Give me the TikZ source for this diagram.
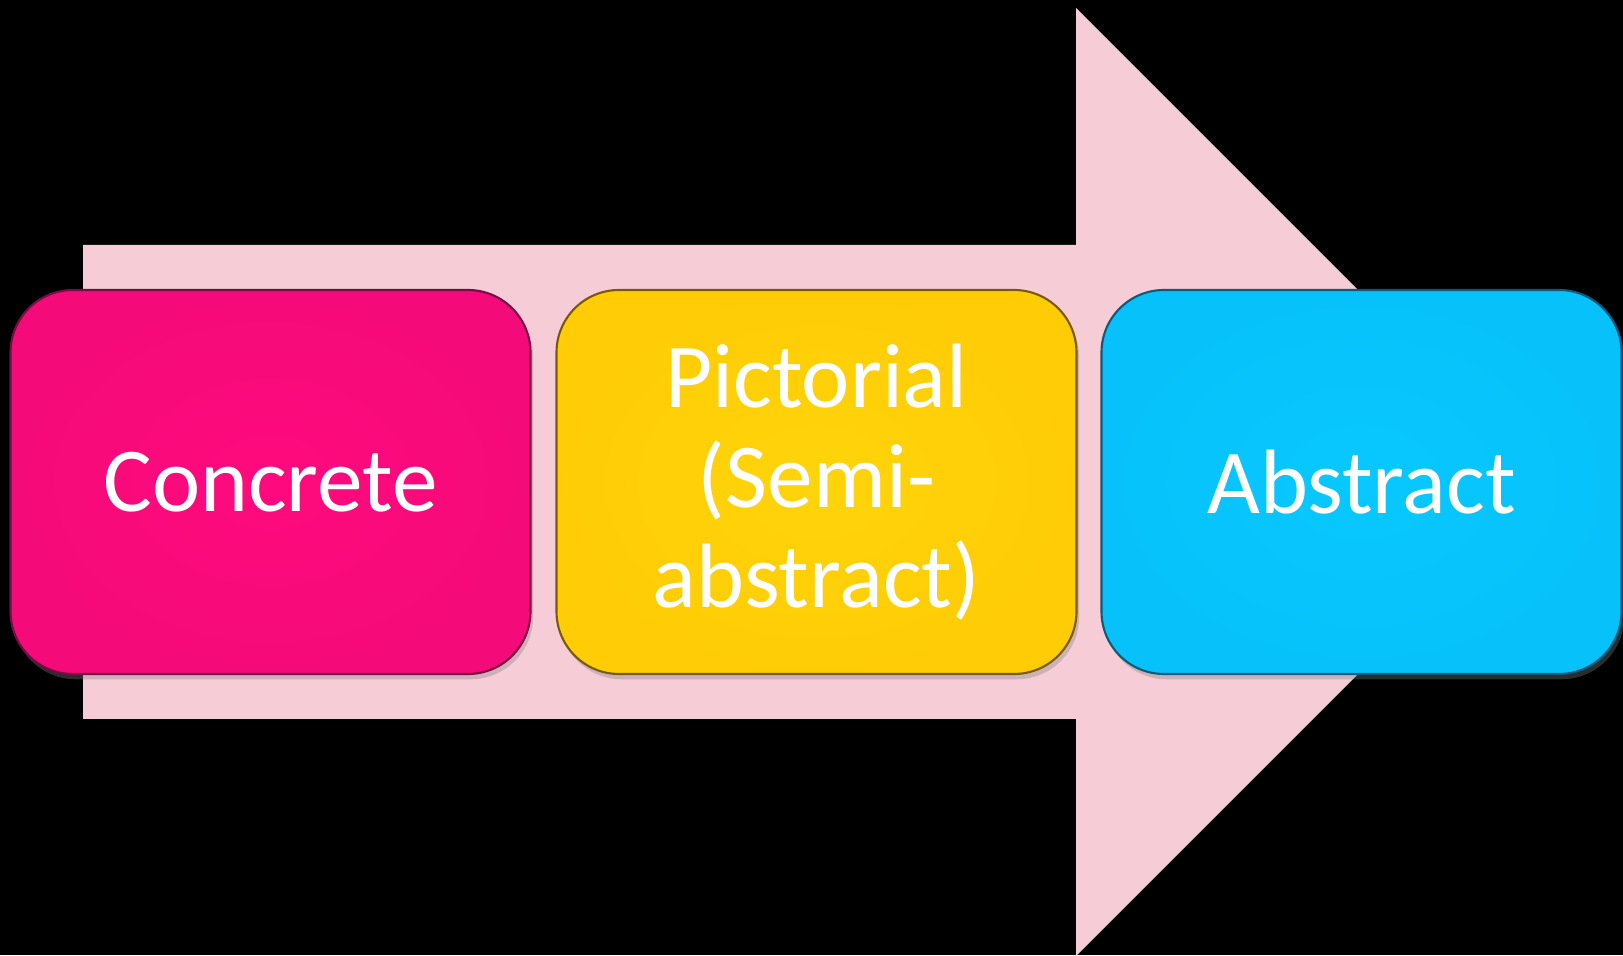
\documentclass[tikz,border=0pt]{standalone}
\usepackage{fontspec}
\setmainfont{Carlito}
\usepackage{xcolor}
\usepackage{tikz}
\usetikzlibrary{positioning,shadows}
\definecolor{arrowpink}{RGB}{246,204,214}
\definecolor{cpink}{RGB}{255,10,126}
\definecolor{cpinkdk}{RGB}{120,10,70}
\definecolor{cyel}{RGB}{255,212,10}
\definecolor{cyelo}{RGB}{255,196,0}
\definecolor{cyeldk}{RGB}{120,90,10}
\definecolor{cblue}{RGB}{8,200,255}
\definecolor{cblueo}{RGB}{6,188,245}
\definecolor{cbluedk}{RGB}{15,90,120}

\begin{document}
\begin{tikzpicture}[
    stage/.style={rectangle,rounded corners=1.25cm,minimum width=10.4cm,minimum height=7.68cm,
      inner sep=0pt,outer sep=0pt,line width=1.2pt,text=white,align=center,
      font=\fontsize{52}{57}\selectfont,
      drop shadow={shadow xshift=1.5pt,shadow yshift=-3pt,opacity=0.35}},
  ]
  % background
  \fill[black] (0,0) rectangle (32.46,19.1);
  \useasboundingbox (0,0) rectangle (32.46,19.1);
  % big arrow
  \fill[arrowpink] (1.66,4.72) -- (1.66,14.2) -- (21.52,14.2) -- (21.52,18.94)
    -- (31.0,9.46) -- (21.52,-0.02) -- (21.52,4.72) -- cycle;
  % stages
  \node[stage,draw=cpinkdk,shading=radial,inner color=cpink,outer color=cpink!96!black] (concrete) at (5.41,9.46) {Concrete};
  \node[stage,draw=cyeldk,shading=radial,inner color=cyel,outer color=cyel!50!cyelo,right=0.52cm of concrete] (pictorial) {Pictorial\\(Semi-\\abstract)};
  \node[stage,draw=cbluedk,shading=radial,inner color=cblue,outer color=cblue!50!cblueo,right=0.5cm of pictorial] (abstract) {Abstract};
\end{tikzpicture}
\end{document}
